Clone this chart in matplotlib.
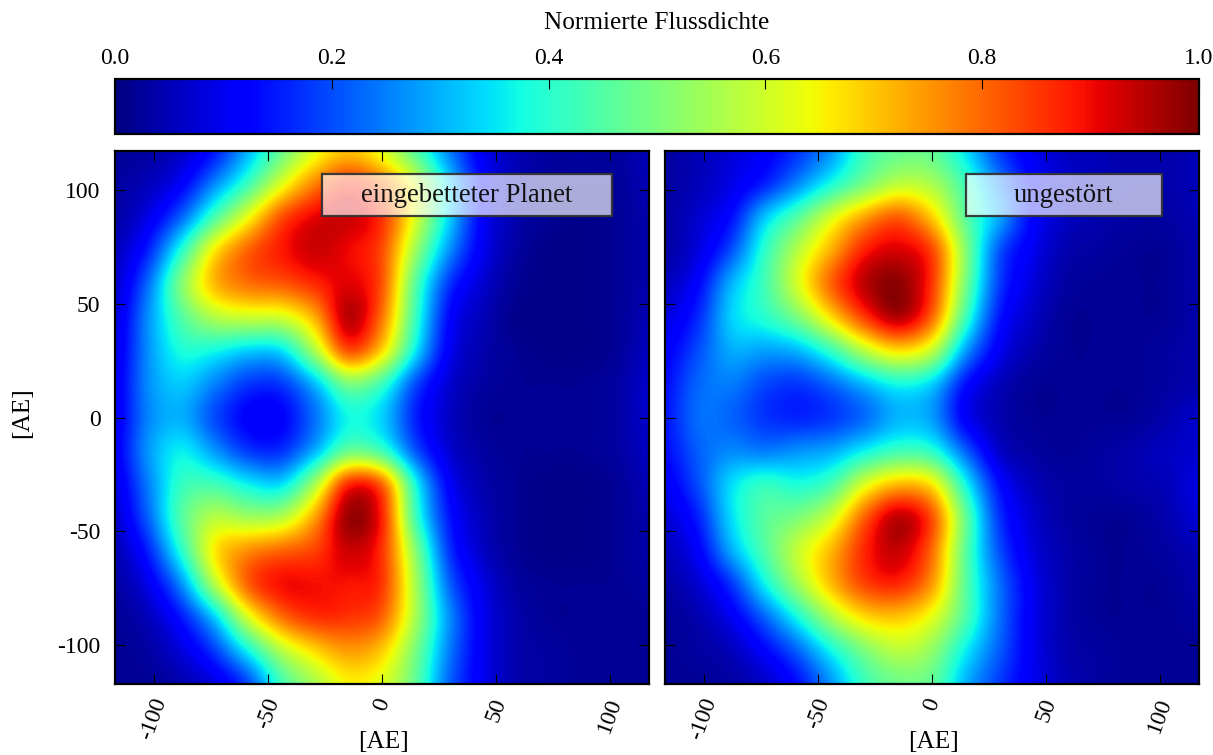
import numpy as np
import matplotlib
matplotlib.use("Agg")
import matplotlib.pyplot as plt
from matplotlib.patches import Rectangle

plt.rcParams['font.family'] = ['Liberation Serif', 'DejaVu Serif']

# flux density, top row first, left column first
planet_rows = [
 [.02,.03,.06,.14,.30,.47,.62,.70,.62,.45,.25,.10,.05,.03,.03,.03,.05],
 [.03,.05,.11,.26,.42,.62,.78,.88,.80,.62,.34,.12,.05,.02,.02,.02,.05],
 [.03,.09,.22,.44,.64,.84,.92,.94,.87,.62,.34,.11,.04,.02,.01,.02,.04],
 [.05,.15,.40,.68,.82,.89,.94,.90,.84,.54,.27,.10,.03,.01,.01,.02,.04],
 [.06,.23,.52,.73,.80,.82,.87,.92,.84,.45,.17,.07,.02,.01,.01,.02,.04],
 [.07,.27,.45,.57,.60,.60,.72,.98,.80,.42,.12,.05,.01,.01,.01,.02,.05],
 [.08,.27,.39,.37,.32,.33,.56,.86,.70,.36,.10,.04,.02,.01,.01,.02,.06],
 [.09,.27,.33,.25,.17,.17,.30,.50,.42,.19,.07,.03,.02,.02,.02,.03,.07],
 [.09,.26,.30,.19,.11,.11,.23,.37,.33,.15,.06,.02,.02,.02,.02,.03,.07],
 [.10,.28,.37,.27,.17,.16,.29,.47,.42,.20,.07,.03,.02,.02,.02,.03,.06],
 [.08,.25,.42,.43,.36,.33,.55,.90,.84,.38,.11,.04,.02,.01,.01,.02,.05],
 [.06,.22,.46,.58,.54,.56,.74,1.0,.90,.42,.14,.05,.02,.01,.01,.02,.04],
 [.04,.15,.40,.68,.77,.81,.84,.94,.87,.52,.17,.06,.02,.01,.01,.02,.04],
 [.03,.09,.26,.58,.83,.91,.90,.89,.87,.56,.22,.09,.03,.02,.02,.02,.03],
 [.02,.05,.14,.32,.62,.80,.87,.86,.82,.56,.27,.10,.04,.02,.02,.02,.02],
 [.02,.03,.08,.18,.37,.57,.68,.75,.70,.50,.25,.10,.04,.03,.02,.02,.02],
 [.02,.02,.04,.08,.18,.42,.55,.65,.62,.47,.22,.10,.04,.03,.02,.02,.02],
]
undisturbed_rows = [
 [.03,.05,.08,.11,.17,.27,.42,.47,.47,.35,.18,.10,.06,.05,.04,.04,.05],
 [.03,.05,.09,.15,.26,.38,.49,.58,.56,.43,.26,.12,.07,.05,.04,.04,.05],
 [.03,.07,.13,.33,.46,.62,.75,.83,.70,.46,.30,.12,.06,.04,.03,.03,.05],
 [.03,.08,.20,.41,.58,.73,.89,.93,.86,.52,.20,.10,.04,.03,.02,.02,.04],
 [.05,.12,.31,.43,.62,.82,.96,1.0,.87,.50,.18,.08,.03,.02,.02,.02,.04],
 [.08,.16,.34,.40,.50,.68,.86,.98,.82,.43,.14,.06,.02,.02,.02,.02,.04],
 [.11,.20,.30,.28,.30,.41,.58,.68,.60,.28,.10,.04,.02,.02,.02,.03,.04],
 [.13,.23,.25,.19,.17,.22,.30,.37,.33,.13,.05,.02,.02,.02,.02,.03,.04],
 [.14,.24,.22,.17,.15,.17,.22,.30,.28,.10,.04,.02,.02,.02,.02,.04,.07],
 [.13,.22,.26,.24,.27,.29,.36,.42,.40,.22,.06,.03,.02,.03,.04,.06,.07],
 [.10,.20,.35,.42,.38,.43,.62,.72,.68,.38,.13,.05,.03,.03,.04,.05,.09],
 [.07,.15,.35,.46,.50,.60,.82,.97,.85,.48,.17,.07,.03,.02,.02,.04,.08],
 [.05,.11,.30,.45,.60,.72,.88,.95,.81,.46,.20,.08,.04,.02,.02,.03,.05],
 [.03,.07,.17,.37,.55,.72,.85,.88,.76,.46,.24,.10,.04,.02,.02,.02,.04],
 [.02,.04,.10,.22,.38,.56,.68,.70,.63,.45,.24,.10,.04,.02,.02,.02,.03],
 [.02,.03,.05,.12,.22,.37,.50,.58,.53,.36,.22,.10,.04,.03,.02,.02,.02],
 [.02,.02,.03,.06,.13,.27,.42,.48,.47,.30,.18,.10,.05,.03,.02,.02,.02],
]
pos_ticks = [-100, -50, 0, 50, 100]
pos_labels = ['-100', '-50', '0', '50', '100']
cbar_ticks = [0.0, 0.2, 0.4, 0.6, 0.8, 1.0]
cbar_labels = ['0.0', '0.2', '0.4', '0.6', '0.8', '1.0']
panel_names = ['eingebetteter Planet', 'ungestört']
LIM = 117.0

W, H = 1213, 755
fig = plt.figure(figsize=(W/100, H/100), dpi=100)

def axpx(l, t, r, b):
    return fig.add_axes([l/W, 1-b/H, (r-l)/W, (b-t)/H])

ax1 = axpx(115, 151, 649, 684)
ax2 = axpx(665, 151, 1199, 684)
cax = axpx(115, 79, 1199, 134)

FS = 18.2
TS = 17
BS = 19.3
half = LIM/16
for ax, rows, name, box in ((ax1, planet_rows, panel_names[0], (322, 612)),
                            (ax2, undisturbed_rows, panel_names[1], (966, 1162))):
    im = ax.imshow(np.array(rows), cmap='jet', vmin=0, vmax=1, interpolation='mitchell',
                   extent=(-LIM-half, LIM+half, -LIM-half, LIM+half), aspect='auto', origin='upper')
    ax.set_xlim(-LIM, LIM)
    ax.set_ylim(-LIM, LIM)
    ax.set_xticks(pos_ticks)
    ax.set_xticklabels(pos_labels, rotation=70, ha='center', va='top', fontsize=TS)
    ax.set_yticks(pos_ticks)
    ax.set_yticklabels(pos_labels, fontsize=TS)
    ax.tick_params(direction='in', length=7.5, width=0.8, top=True, right=True, pad=10.5)
    ax.tick_params(axis='x', pad=8)
    for s in ax.spines.values():
        s.set_linewidth(1.6)
    ax.set_xlabel('[AE]', fontsize=FS)
    ax.xaxis.set_label_coords(0.503, -0.109, transform=ax.transAxes)
    ax.xaxis.label.set_va('center')
    bb = ax.get_position()
    l, r = box
    ax.add_patch(Rectangle(((l-bb.x0*W)/(bb.width*W), 1-(216-151)/533), (r-l)/(bb.width*W), 42/533,
                           transform=ax.transAxes, fc=(1, 1, 1, 0.68), ec=(0.2, 0.2, 0.2, 0.95), lw=1.6, zorder=5))
    ax.text(((l+r)/2-bb.x0*W)/(bb.width*W), 1-(195-151)/533, name, transform=ax.transAxes,
            ha='center', va='center', fontsize=BS, color='#111111', zorder=6)

ax2.tick_params(labelleft=False)
ax1.set_ylabel('[AE]', fontsize=FS)
ax1.yaxis.set_label_coords(-0.174, 0.51, transform=ax1.transAxes)
ax1.yaxis.label.set_va('center')

cb = fig.colorbar(im, cax=cax, orientation='horizontal', ticks=cbar_ticks)
cax.xaxis.set_ticks_position('top')
cax.xaxis.set_label_position('top')
cax.tick_params(direction='in', length=7.5, width=0.8, labelsize=TS, pad=7.5)
cb.outline.set_linewidth(1.6)
cb.set_ticklabels(cbar_labels)
cb.set_label('Normierte Flussdichte', fontsize=FS, labelpad=13.5)

fig.savefig('out.png', dpi=100)
